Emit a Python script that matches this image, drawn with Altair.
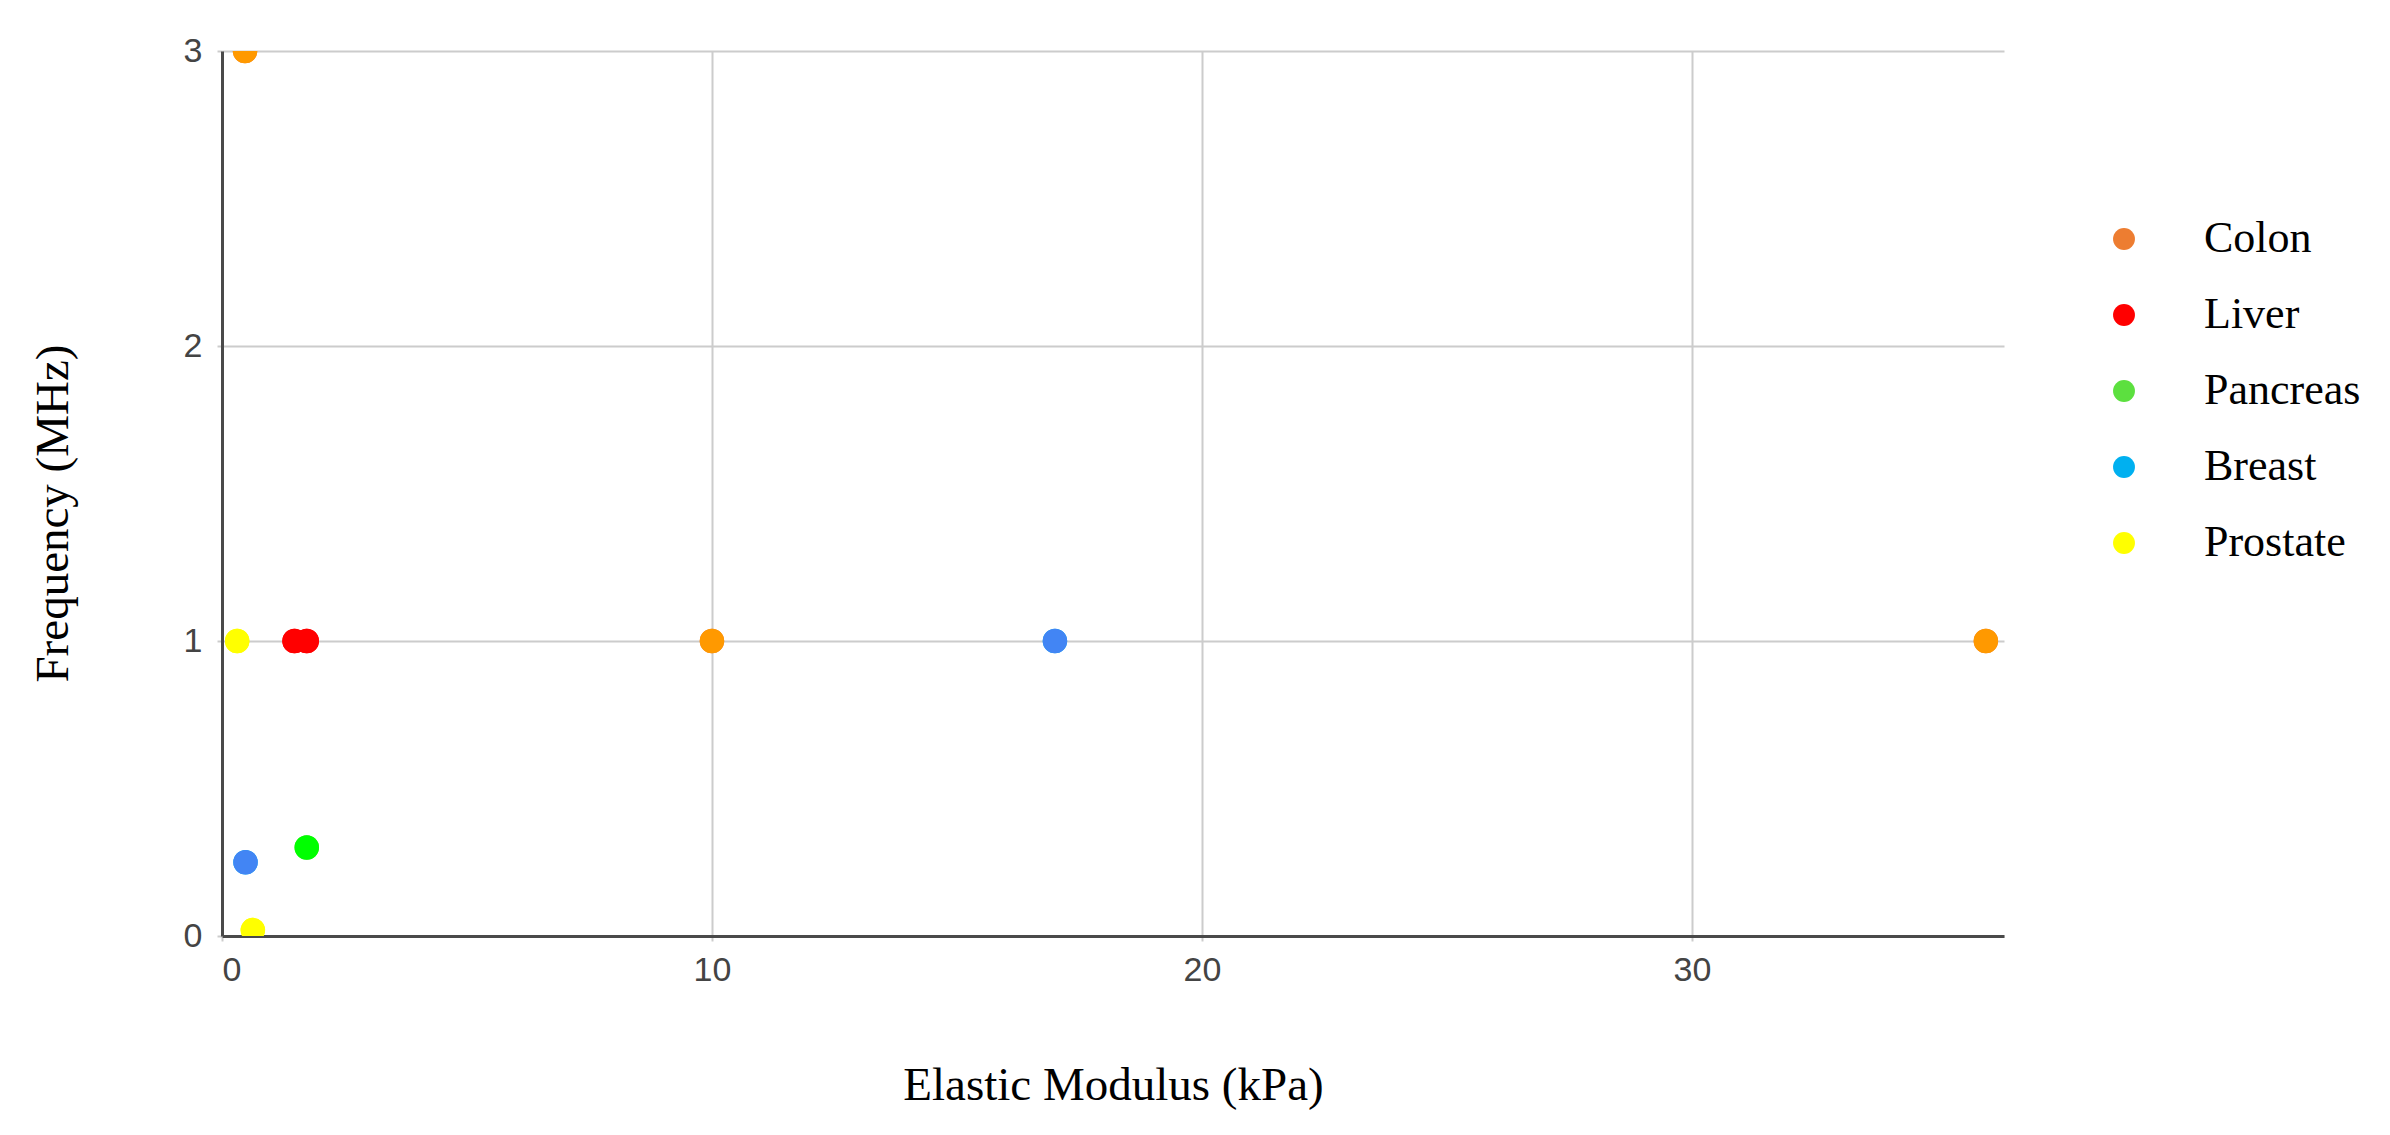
import altair as alt
import pandas as pd

categories = ["Colon", "Liver", "Pancreas", "Breast", "Prostate"]
legend_colors = ["#ED7D31", "#FF0000", "#5CE03F", "#00B0F0", "#FFFF00"]
point_colors = ["#FF9900", "#FF0000", "#00FF00", "#4285F4", "#FFFF00"]

point_category = ["Colon", "Colon", "Colon", "Liver", "Liver", "Pancreas",
                  "Breast", "Breast", "Prostate", "Prostate"]
elastic_modulus = [0.47, 10.0, 36.0, 1.48, 1.73, 1.73, 0.48, 17.0, 0.31, 0.63]
frequency = [3.0, 1.0, 1.0, 1.0, 1.0, 0.30, 0.25, 1.0, 1.0, 0.02]

x_ticks = [0, 10, 20, 30]
y_ticks = [0, 1, 2, 3]

df = pd.DataFrame({
    "Tissue": point_category,
    "E": elastic_modulus,
    "F": frequency,
})

x_enc = alt.X("E:Q", scale=alt.Scale(domain=[0, 36.37], nice=False, zero=True),
              axis=alt.Axis(values=x_ticks, title="Elastic Modulus (kPa)",
                            titleY=149, titleBaseline="middle"))
y_enc = alt.Y("F:Q", scale=alt.Scale(domain=[0, 3], nice=False),
              axis=alt.Axis(values=y_ticks, title="Frequency (MHz)",
                            titleX=-169, titleY=462, titleBaseline="middle",
                            titleAngle=-90))

base = alt.Chart(df)

legend_layer = base.mark_circle(size=600, opacity=1, clip=True).encode(
    x=x_enc, y=y_enc,
    color=alt.Color("Tissue:N",
                    scale=alt.Scale(domain=categories, range=legend_colors),
                    sort=categories,
                    legend=alt.Legend(title=None, orient="none",
                                      legendX=1880, legendY=166,
                                      symbolType="circle", symbolSize=480,
                                      symbolOpacity=1, symbolStrokeWidth=0,
                                      labelFont="Liberation Serif",
                                      labelFontSize=44, labelColor="#000000",
                                      labelOffset=58, rowPadding=32,
                                      padding=0)),
)

point_layer = base.mark_circle(size=600, opacity=1, clip=True).encode(
    x=x_enc, y=y_enc,
    color=alt.Color("Tissue:N",
                    scale=alt.Scale(domain=categories, range=point_colors),
                    legend=None),
)

chart = alt.layer(legend_layer, point_layer).resolve_scale(
    color="independent"
).properties(
    width=1782,
    height=885,
    autosize=alt.AutoSizeParams(type="none"),
    padding={"left": 214, "top": 43, "right": 370, "bottom": 180},
    background="#ffffff",
).configure_view(
    strokeWidth=0
).configure_axis(
    labelFont="Liberation Sans",
    labelFontSize=34,
    labelColor="#444444",
    titleFont="Liberation Serif",
    titleFontSize=47,
    titleFontWeight="normal",
    titleColor="#000000",
    domainColor="#4a4a4a",
    domainWidth=3,
    gridColor="#cccccc",
    gridWidth=2,
    tickColor="#cccccc",
    tickWidth=2,
    tickSize=5,
).configure_axisX(
    labelPadding=12,
).configure_axisY(
    labelPadding=15,
)

chart.save("out.html", embed_options={"renderer": "svg", "actions": False})
